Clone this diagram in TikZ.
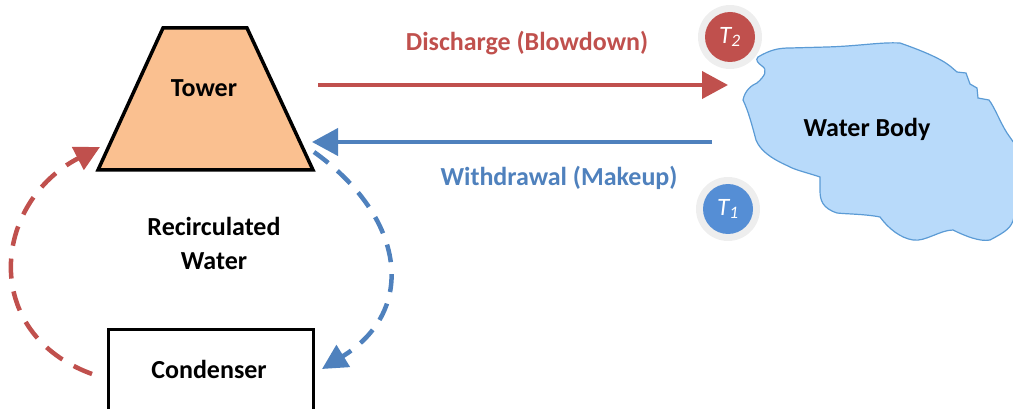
\documentclass[tikz,border=0pt]{standalone}
\usepackage{fontspec}
\setmainfont{Carlito}
\usetikzlibrary{arrows.meta}
\definecolor{dred}{HTML}{C0504D}
\definecolor{dblue}{HTML}{4F81BD}
\definecolor{tblue}{HTML}{558ED5}
\definecolor{torange}{HTML}{FAC090}
\definecolor{wfill}{HTML}{B8DAFA}
\definecolor{wedge}{HTML}{5B9BD5}
\definecolor{halo}{HTML}{EEEEEE}
\tikzset{
  lbl/.style={font=\fontsize{26}{32}\selectfont\bfseries, inner sep=0pt, align=center},
  flow/.style={line width=4pt, -{Triangle[length=26pt,width=27pt]}},
  loop/.style={line width=4.5pt, -{Triangle[length=25pt,width=25pt]}},
  halo/.style={circle, fill=halo, minimum size=64pt, inner sep=0pt},
  tdot/.style={circle, minimum size=50pt, inner sep=0pt, text=white, font=\fontsize{25}{28}\selectfont\itshape},
}
\begin{document}
\begin{tikzpicture}[x=1pt,y=-1pt]
\useasboundingbox (0,0) rectangle (1013,409);
\clip (0,0) rectangle (1013,409);
% water body
\filldraw[fill=wfill, draw=wedge, line width=1.2pt]
  (758,57) .. controls (770,50) and (778,48) .. (790,48)
  -- (827,47) .. controls (860,46) and (880,42) .. (900,43)
  .. controls (920,50) and (940,58) .. (950,66)
  -- (957,72) -- (966,73) -- (970,84) -- (977,88) -- (978,98) -- (989,100)
  .. controls (995,108) and (1000,122) .. (1007,133)
  -- (1014,143) -- (1014,217)
  .. controls (1012,228) and (1005,232) .. (990,240)
  .. controls (980,242) and (965,236) .. (953,230)
  .. controls (940,230) and (925,242) .. (913,240)
  .. controls (900,238) and (888,228) .. (880,217)
  .. controls (865,214) and (845,214) .. (837,213)
  .. controls (822,208) and (820,200) .. (820,190)
  -- (820,177) .. controls (805,172) and (795,170) .. (788,166)
  .. controls (770,158) and (760,150) .. (756,140)
  .. controls (752,125) and (748,110) .. (743,100)
  .. controls (745,90) and (752,85) .. (757,83)
  .. controls (765,76) and (768,70) .. (762,66)
  .. controls (758,63) and (755,60) .. (758,57) -- cycle;
\node[lbl] (wb) at (867,129) {Water Body};
% tower
\filldraw[fill=torange, draw=black, line width=3.5pt, line join=miter]
  (163,28) -- (247,28) -- (313,170) -- (98,170) -- cycle;
\node[lbl] (tower) at (204,88) {Tower};
% condenser
\node[draw, line width=3pt, minimum width=205pt, minimum height=100pt, inner sep=0pt, anchor=north west] (cond) at (107,328) {};
\node[lbl] (condt) at (209,369) {Condenser};
\node[lbl] (recirc) at (214,243) {Recirculated\\[2pt]Water};
% temperature markers
\node[halo] (h2) at (730,37) {};
\node[tdot, fill=dred] (t2) at (730,37) {T\textsubscript{2}};
\node[halo] (h1) at (728,209) {};
\node[tdot, fill=tblue] (t1) at (728,209) {T\textsubscript{1}};
% flows
\coordinate (dis0) at (318,85);
\coordinate (dis1) at (728,85);
\coordinate (wd0) at (712,142);
\coordinate (wd1) at (312,142);
\draw[flow, draw=dred] (dis0) -- (dis1);
\draw[flow, draw=dblue] (wd0) -- (wd1);
\node[lbl, text=dred] (dlab) at (527,43) {Discharge (Blowdown)};
\node[lbl, text=dblue] (wlab) at (559,178) {Withdrawal (Makeup)};
% recirculation loop
\coordinate (r0) at (92,374);
\coordinate (r1) at (100,147);
\coordinate (b0) at (314,152);
\coordinate (b1) at (322,369);
\draw[loop, draw=dred, dash pattern=on 20pt off 13pt] (r0) .. controls (-20,333) and (-8,203) .. (r1);
\draw[loop, draw=dblue, dash pattern=on 18pt off 12pt] (b0) .. controls (405,217) and (418,310) .. (b1);
\end{tikzpicture}
\end{document}
